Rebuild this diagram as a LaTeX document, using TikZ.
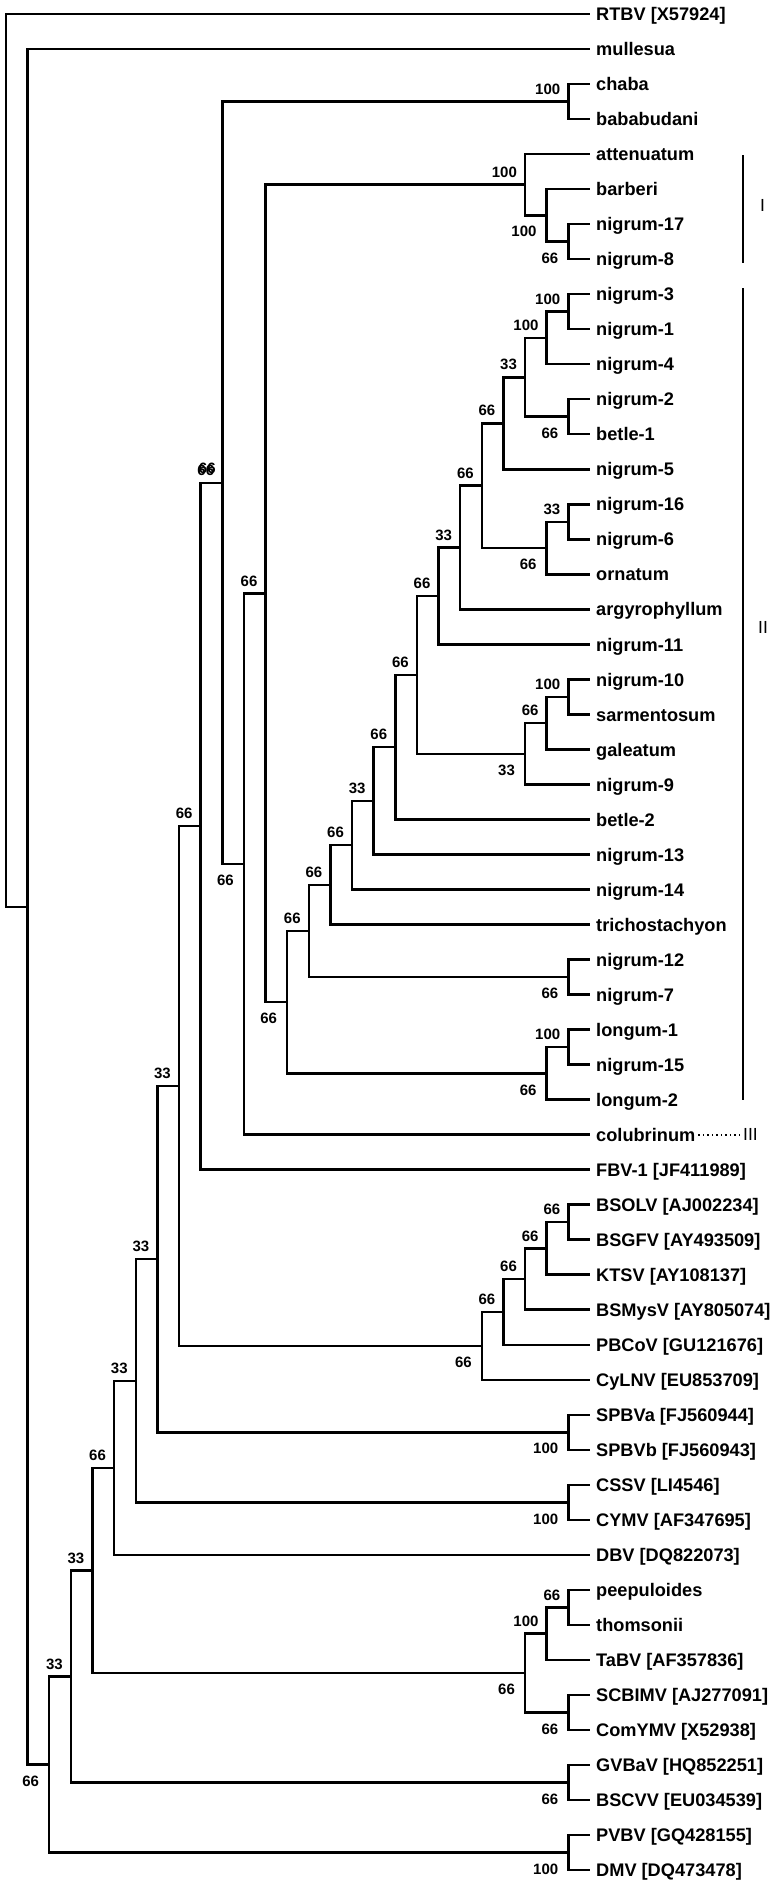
\documentclass[tikz,border=0pt]{standalone}
\usepackage{fontspec}
\setmainfont{Liberation Sans}
\usetikzlibrary{positioning}

\begin{document}
\begin{tikzpicture}[
    x=1pt, y=-1pt,
    branch/.style={line width=2.5pt},
    leaf/.style={anchor=west, inner xsep=6pt, inner ysep=0pt, text height=13.3pt, text depth=0pt, font=\bfseries\fontsize{18.2}{19}\selectfont},
    boot/.style={inner sep=0pt, font=\bfseries\fontsize{15}{16}\selectfont},
    clade/.style={line width=1.6pt},
    cladename/.style={anchor=west, inner sep=0pt, font=\fontsize{17.5}{18}\selectfont}
]
\useasboundingbox (0,0) rectangle (774,1883);

% Leaves
\node[leaf] (rtbv) at (590,14) {RTBV [X57924]};
\node[leaf] (mullesua) at (590,49.0) {mullesua};
\node[leaf] (chaba) at (590,84.0) {chaba};
\node[leaf] (bababudani) at (590,119.1) {bababudani};
\node[leaf] (attenuatum) at (590,154.1) {attenuatum};
\node[leaf] (barberi) at (590,189.1) {barberi};
\node[leaf] (nig17) at (590,224.1) {nigrum-17};
\node[leaf] (nig8) at (590,259.1) {nigrum-8};
\node[leaf] (nig3) at (590,294.2) {nigrum-3};
\node[leaf] (nig1) at (590,329.2) {nigrum-1};
\node[leaf] (nig4) at (590,364.2) {nigrum-4};
\node[leaf] (nig2) at (590,399.2) {nigrum-2};
\node[leaf] (betle1) at (590,434.2) {betle-1};
\node[leaf] (nig5) at (590,469.3) {nigrum-5};
\node[leaf] (nig16) at (590,504.3) {nigrum-16};
\node[leaf] (nig6) at (590,539.3) {nigrum-6};
\node[leaf] (ornatum) at (590,574.3) {ornatum};
\node[leaf] (argyro) at (590,609.3) {argyrophyllum};
\node[leaf] (nig11) at (590,644.4) {nigrum-11};
\node[leaf] (nig10) at (590,679.4) {nigrum-10};
\node[leaf] (sarmento) at (590,714.4) {sarmentosum};
\node[leaf] (galeatum) at (590,749.4) {galeatum};
\node[leaf] (nig9) at (590,784.4) {nigrum-9};
\node[leaf] (betle2) at (590,819.5) {betle-2};
\node[leaf] (nig13) at (590,854.5) {nigrum-13};
\node[leaf] (nig14) at (590,889.5) {nigrum-14};
\node[leaf] (tricho) at (590,924.5) {trichostachyon};
\node[leaf] (nig12) at (590,959.5) {nigrum-12};
\node[leaf] (nig7) at (590,994.6) {nigrum-7};
\node[leaf] (longum1) at (590,1029.6) {longum-1};
\node[leaf] (nig15) at (590,1064.6) {nigrum-15};
\node[leaf] (longum2) at (590,1099.6) {longum-2};
\node[leaf] (colub) at (590,1134.6) {colubrinum};
\node[leaf] (fbv) at (590,1169.7) {FBV-1 [JF411989]};
\node[leaf] (bsolv) at (590,1204.7) {BSOLV [AJ002234]};
\node[leaf] (bsgfv) at (590,1239.7) {BSGFV [AY493509]};
\node[leaf] (ktsv) at (590,1274.7) {KTSV [AY108137]};
\node[leaf] (bsmysv) at (590,1309.7) {BSMysV [AY805074]};
\node[leaf] (pbcov) at (590,1344.8) {PBCoV [GU121676]};
\node[leaf] (cylnv) at (590,1379.8) {CyLNV [EU853709]};
\node[leaf] (spbva) at (590,1414.8) {SPBVa [FJ560944]};
\node[leaf] (spbvb) at (590,1449.8) {SPBVb [FJ560943]};
\node[leaf] (cssv) at (590,1484.8) {CSSV [LI4546]};
\node[leaf] (cymv) at (590,1519.9) {CYMV [AF347695]};
\node[leaf] (dbv) at (590,1554.9) {DBV [DQ822073]};
\node[leaf] (peepul) at (590,1589.9) {peepuloides};
\node[leaf] (thomson) at (590,1624.9) {thomsonii};
\node[leaf] (tabv) at (590,1659.9) {TaBV [AF357836]};
\node[leaf] (scbimv) at (590,1695.0) {SCBIMV [AJ277091]};
\node[leaf] (comymv) at (590,1730.0) {ComYMV [X52938]};
\node[leaf] (gvbav) at (590,1765.0) {GVBaV [HQ852251]};
\node[leaf] (bscvv) at (590,1800.0) {BSCVV [EU034539]};
\node[leaf] (pvbv) at (590,1835.0) {PVBV [GQ428155]};
\node[leaf] (dmv) at (590,1870.1) {DMV [DQ473478]};

% Internal nodes
\coordinate (root) at (6.0,460.4);
\coordinate (n26) at (27.6,906.8);
\coordinate (n25) at (49.2,1764.6);
\coordinate (pd) at (568.4,1852.6);
\coordinate (n24) at (70.9,1676.5);
\coordinate (gb) at (568.4,1782.5);
\coordinate (n23) at (92.5,1570.5);
\coordinate (pep) at (525.1,1673.1);
\coordinate (pt) at (546.7,1633.7);
\coordinate (ptt) at (568.4,1607.4);
\coordinate (sc) at (568.4,1712.5);
\coordinate (n22) at (114.1,1467.8);
\coordinate (n21) at (135.8,1380.8);
\coordinate (cc) at (568.4,1502.4);
\coordinate (n20) at (157.4,1259.2);
\coordinate (sp) at (568.4,1432.3);
\coordinate (n19) at (179.0,1086.0);
\coordinate (bs) at (481.9,1345.9);
\coordinate (bs2) at (503.5,1312.0);
\coordinate (bs3) at (525.1,1279.1);
\coordinate (bs4) at (546.7,1248.5);
\coordinate (bs5) at (568.4,1222.2);
\coordinate (n18) at (200.7,826.2);
\coordinate (n17) at (222.3,482.8);
\coordinate (cb) at (568.4,101.5);
\coordinate (n16) at (243.9,864.0);
\coordinate (n15) at (265.6,593.4);
\coordinate (att) at (525.1,184.7);
\coordinate (ba) at (546.7,215.3);
\coordinate (cnig178) at (568.4,241.6);
\coordinate (n14) at (287.2,1002.1);
\coordinate (lg) at (546.7,1073.4);
\coordinate (l1) at (568.4,1047.1);
\coordinate (n13) at (308.8,930.9);
\coordinate (cnig127) at (568.4,977.1);
\coordinate (n12) at (330.4,884.8);
\coordinate (n11) at (352.1,845.2);
\coordinate (n10) at (373.7,800.8);
\coordinate (n9) at (395.3,747.2);
\coordinate (n8) at (417.0,674.9);
\coordinate (gal) at (525.1,753.8);
\coordinate (ns) at (546.7,723.2);
\coordinate (cnig1010) at (568.4,696.9);
\coordinate (n7) at (438.6,595.9);
\coordinate (n6) at (460.2,547.5);
\coordinate (n5) at (481.9,485.7);
\coordinate (orn) at (546.7,548.0);
\coordinate (cnig166) at (568.4,521.8);
\coordinate (n4) at (503.5,423.3);
\coordinate (n3) at (525.1,377.3);
\coordinate (cnig2b) at (568.4,416.7);
\coordinate (n2) at (546.7,338.0);
\coordinate (cnig31) at (568.4,311.7);

% Branches
\draw[branch] (root) |- (rtbv.west) (root) |- (n26);
\draw[branch] (n26) |- (mullesua.west) (n26) |- (n25);
\draw[branch] (n25) |- (n24) (n25) |- (pd);
\draw[branch] (pd) |- (pvbv.west) (pd) |- (dmv.west);
\draw[branch] (n24) |- (n23) (n24) |- (gb);
\draw[branch] (gb) |- (gvbav.west) (gb) |- (bscvv.west);
\draw[branch] (n23) |- (n22) (n23) |- (pep);
\draw[branch] (pep) |- (pt) (pep) |- (sc);
\draw[branch] (pt) |- (ptt) (pt) |- (tabv.west);
\draw[branch] (ptt) |- (peepul.west) (ptt) |- (thomson.west);
\draw[branch] (sc) |- (scbimv.west) (sc) |- (comymv.west);
\draw[branch] (n22) |- (n21) (n22) |- (dbv.west);
\draw[branch] (n21) |- (n20) (n21) |- (cc);
\draw[branch] (cc) |- (cssv.west) (cc) |- (cymv.west);
\draw[branch] (n20) |- (n19) (n20) |- (sp);
\draw[branch] (sp) |- (spbva.west) (sp) |- (spbvb.west);
\draw[branch] (n19) |- (n18) (n19) |- (bs);
\draw[branch] (bs) |- (bs2) (bs) |- (cylnv.west);
\draw[branch] (bs2) |- (bs3) (bs2) |- (pbcov.west);
\draw[branch] (bs3) |- (bs4) (bs3) |- (bsmysv.west);
\draw[branch] (bs4) |- (bs5) (bs4) |- (ktsv.west);
\draw[branch] (bs5) |- (bsolv.west) (bs5) |- (bsgfv.west);
\draw[branch] (n18) |- (n17) (n18) |- (fbv.west);
\draw[branch] (n17) |- (cb) (n17) |- (n16);
\draw[branch] (cb) |- (chaba.west) (cb) |- (bababudani.west);
\draw[branch] (n16) |- (n15) (n16) |- (colub.west);
\draw[branch] (n15) |- (att) (n15) |- (n14);
\draw[branch] (att) |- (attenuatum.west) (att) |- (ba);
\draw[branch] (ba) |- (barberi.west) (ba) |- (cnig178);
\draw[branch] (cnig178) |- (nig17.west) (cnig178) |- (nig8.west);
\draw[branch] (n14) |- (n13) (n14) |- (lg);
\draw[branch] (lg) |- (l1) (lg) |- (longum2.west);
\draw[branch] (l1) |- (longum1.west) (l1) |- (nig15.west);
\draw[branch] (n13) |- (n12) (n13) |- (cnig127);
\draw[branch] (cnig127) |- (nig12.west) (cnig127) |- (nig7.west);
\draw[branch] (n12) |- (n11) (n12) |- (tricho.west);
\draw[branch] (n11) |- (n10) (n11) |- (nig14.west);
\draw[branch] (n10) |- (n9) (n10) |- (nig13.west);
\draw[branch] (n9) |- (n8) (n9) |- (betle2.west);
\draw[branch] (n8) |- (n7) (n8) |- (gal);
\draw[branch] (gal) |- (ns) (gal) |- (nig9.west);
\draw[branch] (ns) |- (cnig1010) (ns) |- (galeatum.west);
\draw[branch] (cnig1010) |- (nig10.west) (cnig1010) |- (sarmento.west);
\draw[branch] (n7) |- (n6) (n7) |- (nig11.west);
\draw[branch] (n6) |- (n5) (n6) |- (argyro.west);
\draw[branch] (n5) |- (n4) (n5) |- (orn);
\draw[branch] (orn) |- (cnig166) (orn) |- (ornatum.west);
\draw[branch] (cnig166) |- (nig16.west) (cnig166) |- (nig6.west);
\draw[branch] (n4) |- (n3) (n4) |- (nig5.west);
\draw[branch] (n3) |- (n2) (n3) |- (cnig2b);
\draw[branch] (cnig2b) |- (nig2.west) (cnig2b) |- (betle1.west);
\draw[branch] (n2) |- (cnig31) (n2) |- (nig4.west);
\draw[branch] (cnig31) |- (nig3.west) (cnig31) |- (nig1.west);

% Bootstrap values
\node[boot, above left=7pt and 8pt of cb] (v-cb) {100};
\node[boot, above left=7pt and 8pt of att] (v-att) {100};
\node[boot, below left=11pt and 10pt of ba] (v-ba) {100};
\node[boot, below left=11pt and 10pt of cnig178] (v-cnig178) {66};
\node[boot, above left=7pt and 8pt of cnig31] (v-cnig31) {100};
\node[boot, above left=7pt and 8pt of n2] (v-n2) {100};
\node[boot, above left=7pt and 8pt of n3] (v-n3) {33};
\node[boot, below left=11pt and 10pt of cnig2b] (v-cnig2b) {66};
\node[boot, above left=7pt and 8pt of n4] (v-n4) {66};
\node[boot, above left=7pt and 8pt of n5] (v-n5) {66};
\node[boot, above left=7pt and 8pt of cnig166] (v-cnig166) {33};
\node[boot, below left=11pt and 10pt of orn] (v-orn) {66};
\node[boot, above left=7pt and 8pt of n6] (v-n6) {33};
\node[boot, above left=7pt and 8pt of n7] (v-n7) {66};
\node[boot, above left=7pt and 8pt of n8] (v-n8) {66};
\node[boot, above left=7pt and 8pt of cnig1010] (v-cnig1010) {100};
\node[boot, above left=7pt and 8pt of ns] (v-ns) {66};
\node[boot, below left=11pt and 10pt of gal] (v-gal) {33};
\node[boot, above left=7pt and 8pt of n9] (v-n9) {66};
\node[boot, above left=7pt and 8pt of n10] (v-n10) {33};
\node[boot, above left=7pt and 8pt of n11] (v-n11) {66};
\node[boot, above left=7pt and 8pt of n12] (v-n12) {66};
\node[boot, above left=7pt and 8pt of n13] (v-n13) {66};
\node[boot, below left=11pt and 10pt of cnig127] (v-cnig127) {66};
\node[boot, below left=11pt and 10pt of n14] (v-n14) {66};
\node[boot, above left=7pt and 8pt of l1] (v-l1) {100};
\node[boot, below left=11pt and 10pt of lg] (v-lg) {66};
\node[boot, above left=7pt and 8pt of n15] (v-n15) {66};
\node[boot, below left=11pt and 10pt of n16] (v-n16) {66};
\node[boot, above left=7pt and 8pt of n17] (v-n17) {66};
\node[boot, above left=9pt and 6.5pt of n17] (v-n17b) {66};
\node[boot, above left=7pt and 8pt of n18] (v-n18) {66};
\node[boot, above left=7pt and 8pt of n19] (v-n19) {33};
\node[boot, above left=7pt and 8pt of bs5] (v-bs5) {66};
\node[boot, above left=7pt and 8pt of bs4] (v-bs4) {66};
\node[boot, above left=7pt and 8pt of bs3] (v-bs3) {66};
\node[boot, above left=7pt and 8pt of bs2] (v-bs2) {66};
\node[boot, below left=11pt and 10pt of bs] (v-bs) {66};
\node[boot, above left=7pt and 8pt of n20] (v-n20) {33};
\node[boot, below left=11pt and 10pt of sp] (v-sp) {100};
\node[boot, above left=7pt and 8pt of n21] (v-n21) {33};
\node[boot, below left=11pt and 10pt of cc] (v-cc) {100};
\node[boot, above left=7pt and 8pt of n22] (v-n22) {66};
\node[boot, above left=7pt and 8pt of ptt] (v-ptt) {66};
\node[boot, above left=7pt and 8pt of pt] (v-pt) {100};
\node[boot, below left=11pt and 10pt of pep] (v-pep) {66};
\node[boot, below left=11pt and 10pt of sc] (v-sc) {66};
\node[boot, above left=7pt and 8pt of n23] (v-n23) {33};
\node[boot, below left=11pt and 10pt of gb] (v-gb) {66};
\node[boot, above left=7pt and 8pt of n24] (v-n24) {33};
\node[boot, below left=11pt and 10pt of pd] (v-pd) {100};
\node[boot, below left=11pt and 10pt of n25] (v-n25) {66};

% Clade marks
\coordinate (Itop) at (743,155);
\coordinate (Ibot) at (743,263);
\coordinate (IItop) at (743,288);
\coordinate (IIbot) at (743,1100);
\draw[clade] (Itop) -- (Ibot);
\draw[clade] (IItop) -- (IIbot);
\node[cladename] (cI) at (760,205) {I};
\node[cladename] (cII) at (758,627) {II};
\node[cladename] (cIII) at (743,1134.6) {III};
\draw[line width=1.8pt, dash pattern=on 1.5pt off 3pt, shorten <=-3pt, shorten >=3pt] (colub.east) -- (cIII.west);

\end{tikzpicture}
\end{document}
